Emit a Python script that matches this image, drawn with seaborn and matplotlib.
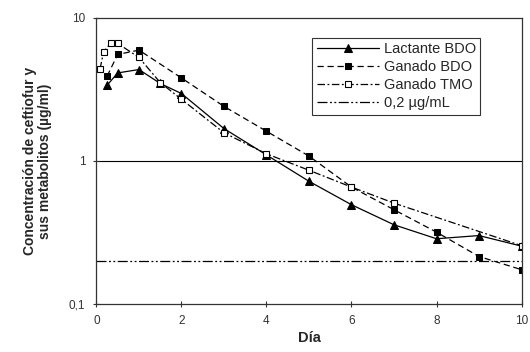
import pandas as pd
import seaborn as sns
import matplotlib.pyplot as plt
from matplotlib.ticker import FixedLocator, FixedFormatter, NullLocator

# data (dia, concentracion ug/ml)
lact_dia = [0.25, 0.5, 1, 1.5, 2, 3, 4, 5, 6, 7, 8, 9, 10]
lact_conc = [3.37, 4.11, 4.34, 3.47, 2.95, 1.68, 1.10, 0.72, 0.494, 0.358,
             0.286, 0.301, 0.254]

gbdo_dia = [0.25, 0.5, 1, 2, 3, 4, 5, 6, 7, 8, 9, 10]
gbdo_conc = [3.90, 5.53, 5.93, 3.79, 2.40, 1.61, 1.08, 0.656, 0.456, 0.318,
             0.215, 0.174]

gtmo_dia = [0.083, 0.167, 0.333, 0.5, 1, 1.5, 2, 3, 4, 5, 6, 7, 10]
gtmo_conc = [4.36, 5.77, 6.60, 6.60, 5.27, 3.52, 2.69, 1.57, 1.12, 0.86,
             0.656, 0.507, 0.256]

ref_dia = [0, 10]
ref_conc = [0.2, 0.2]

labels = ['Lactante BDO', 'Ganado BDO', 'Ganado TMO', '0,2 \u00b5g/mL']


def main():
    sns.set_style('white')
    plt.rcParams['font.family'] = ['Liberation Sans', 'DejaVu Sans']
    fig = plt.figure(figsize=(5.3, 3.52), dpi=100)
    ax = fig.add_axes([0.182, 0.136, 0.802, 0.814])

    sns.lineplot(x=lact_dia, y=lact_conc, ax=ax, color='black', lw=0.9,
                 marker='^', markersize=6, markeredgecolor='black',
                 label=labels[0])
    sns.lineplot(x=gbdo_dia, y=gbdo_conc, ax=ax, color='black', lw=0.9,
                 linestyle=(0, (5, 3)), marker='s', markersize=5,
                 markeredgecolor='black', label=labels[1])
    sns.lineplot(x=gtmo_dia, y=gtmo_conc, ax=ax, color='black', lw=0.9,
                 linestyle=(0, (6, 2, 1.5, 2)), marker='s', markersize=5,
                 markerfacecolor='white', markeredgecolor='black',
                 markeredgewidth=0.8, label=labels[2])
    sns.lineplot(x=ref_dia, y=ref_conc, ax=ax, color='black', lw=0.9,
                 linestyle=(0, (8, 2, 1.5, 2, 1.5, 2)), label=labels[3])

    ax.axhline(1, color='black', lw=0.8, zorder=0)

    ax.set_yscale('log')
    ax.set_ylim(0.1, 10)
    ax.set_xlim(0, 10)
    ax.yaxis.set_major_locator(FixedLocator([0.1, 1, 10]))
    ax.yaxis.set_major_formatter(FixedFormatter(['0,1', '1', '10']))
    ax.yaxis.set_minor_locator(NullLocator())
    ax.set_xticks([0, 2, 4, 6, 8, 10])
    ax.tick_params(axis='both', labelsize=8.5, colors='#333333', length=4,
                   width=0.8, direction='inout', pad=6, bottom=True, left=True)
    for side in ax.spines.values():
        side.set_color('#333333')
        side.set_linewidth(0.9)

    ax.set_xlabel('D\u00eda', fontsize=10.5, fontweight='bold', labelpad=3)
    ax.set_ylabel('Concentraci\u00f3n de ceftiofur y\nsus metabolitos (\u00b5g/ml)',
                  fontsize=10, fontweight='bold', labelpad=12,
                  family=['Liberation Sans Narrow', 'Liberation Sans'],
                  linespacing=1.15)

    leg = ax.legend(loc='upper left', bbox_to_anchor=(0.508, 0.93),
                    prop={'size': 10.5}, frameon=True, fancybox=False,
                    handlelength=4.3, borderpad=0.3, labelspacing=0.28,
                    handletextpad=0.3, borderaxespad=0)
    leg.get_frame().set_edgecolor('black')
    leg.get_frame().set_linewidth(0.8)

    fig.savefig('out.png', dpi=100)


if __name__ == '__main__':
    main()
